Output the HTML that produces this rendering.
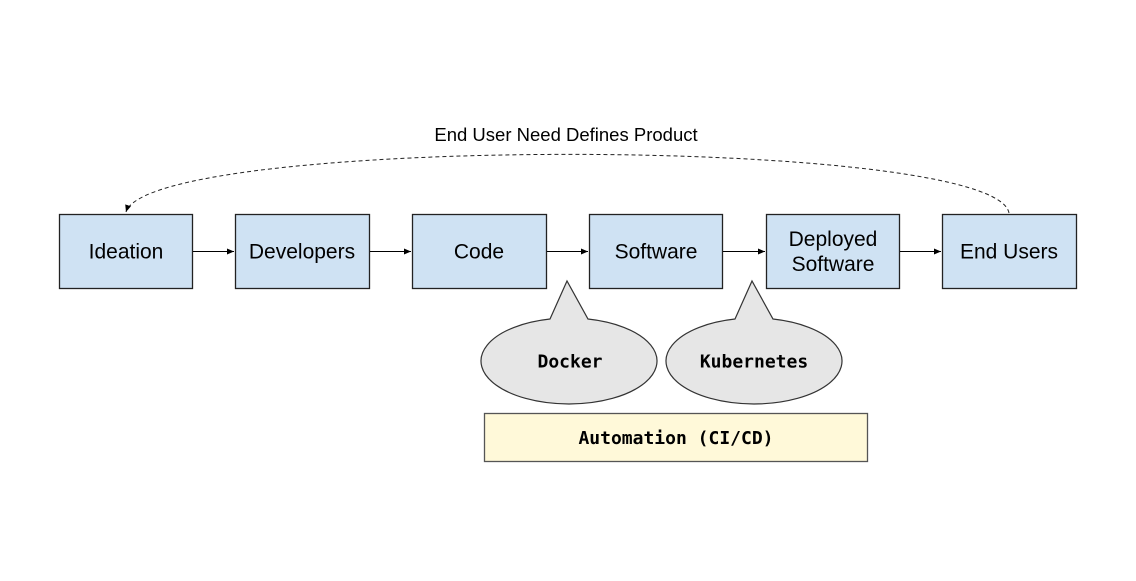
<!DOCTYPE html>
<html><head><style>body{margin:0;background:#fff}</style></head><body>
<svg width="1136" height="576" viewBox="0 0 1136 576" xmlns="http://www.w3.org/2000/svg">
<defs><marker id="a" markerWidth="8" markerHeight="8" refX="7" refY="4" orient="auto" markerUnits="userSpaceOnUse"><path d="M0,1 L7,4 L0,7 Z" fill="#000"/></marker></defs>
<rect width="1136" height="576" fill="#fff"/>
<text x="566" y="141" font-family="Liberation Sans, sans-serif" font-size="18.5" text-anchor="middle" fill="#000">End User Need Defines Product</text>
<path d="M1009,213 C995,135 150,135 126,212" fill="none" stroke="#222" stroke-width="1" stroke-dasharray="4,3" marker-end="url(#a)"/>
<g fill="#cfe2f3" stroke="#222" stroke-width="1.3">
<rect x="59.5" y="214.5" width="133" height="74"/>
<rect x="235.5" y="214.5" width="134" height="74"/>
<rect x="412.5" y="214.5" width="134" height="74"/>
<rect x="589.5" y="214.5" width="133" height="74"/>
<rect x="766.5" y="214.5" width="133" height="74"/>
<rect x="942.5" y="214.5" width="134" height="74"/>
</g>
<g stroke="#000" stroke-width="1.1" marker-end="url(#a)">
<line x1="193" y1="251.5" x2="234" y2="251.5"/>
<line x1="370" y1="251.5" x2="411" y2="251.5"/>
<line x1="547" y1="251.5" x2="588" y2="251.5"/>
<line x1="723" y1="251.5" x2="765" y2="251.5"/>
<line x1="900" y1="251.5" x2="941" y2="251.5"/>
</g>
<g font-family="Liberation Sans, sans-serif" font-size="21" text-anchor="middle" fill="#000">
<text x="126" y="258.5">Ideation</text>
<text x="302" y="258.5">Developers</text>
<text x="479" y="258.5">Code</text>
<text x="656" y="258.5">Software</text>
<text x="833" y="246">Deployed</text>
<text x="833" y="271">Software</text>
<text x="1009" y="258.5">End Users</text>
</g>
<g fill="#e6e6e6" stroke="#333" stroke-width="1.2">
<path d="M550,319 L567,281 L588,319 A88,43 0 1 1 550,319 Z"/>
<path d="M735,319 L752,281 L773,319 A88,43 0 1 1 735,319 Z"/>
</g>
<g font-family="DejaVu Sans Mono, Liberation Mono, monospace" font-weight="bold" font-size="18" text-anchor="middle" fill="#000">
<text x="570" y="367.5">Docker</text>
<text x="754" y="367.5">Kubernetes</text>
</g>
<rect x="484.5" y="413.5" width="383" height="48" fill="#fff9d9" stroke="#555" stroke-width="1.3"/>
<text x="676" y="444" font-family="DejaVu Sans Mono, Liberation Mono, monospace" font-weight="bold" font-size="18" text-anchor="middle" fill="#000">Automation (CI/CD)</text>
</svg>
</body></html>
